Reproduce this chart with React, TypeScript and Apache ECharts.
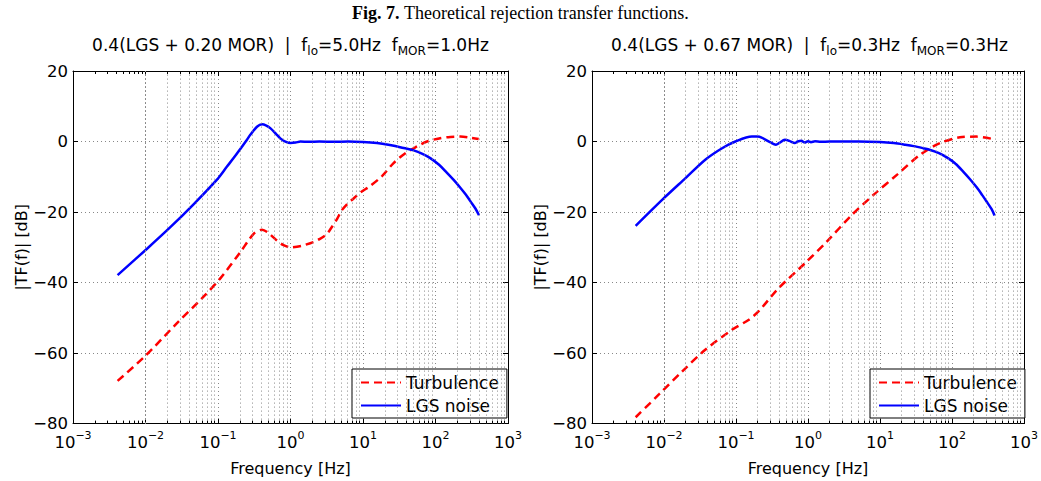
import React, { useEffect, useRef } from 'react';
import * as echarts from 'echarts';

// ---------- data (frequency in Hz, magnitude in dB) ----------
const leftLgsFreq = [0.00412, 0.0105, 0.022, 0.046, 0.0968, 0.133, 0.164, 0.203, 0.251, 0.279, 0.345, 0.405, 0.457, 0.526, 0.63, 0.724, 0.85, 1.0, 1.17, 1.37, 1.78, 2.5, 4.0, 6.3, 10, 15.6, 22.4, 29.4, 39.8, 49.9, 66, 84.7, 112, 144, 178, 220, 263, 302, 355, 398];
const leftLgsDb = [-37.9, -30.4, -24.3, -17.8, -10.8, -7.1, -4.7, -2.1, 0.5, 1.9, 4.2, 4.9, 4.6, 3.8, 2.2, 0.9, 0.0, -0.4, -0.3, 0.0, -0.1, 0.0, -0.1, 0.0, -0.15, -0.45, -0.9, -1.4, -2.0, -2.5, -3.5, -4.7, -6.6, -8.9, -10.9, -13.1, -15.1, -16.9, -19.0, -20.9];

const leftTurbFreq = [0.00412, 0.00993, 0.0272, 0.0632, 0.1076, 0.203, 0.31, 0.405, 0.5, 0.652, 0.8, 1.0, 1.4, 2.08, 2.5, 3.18, 3.7, 4.38, 5.1, 6.0, 7.0, 9.18, 12.6, 18.3, 26.4, 38.4, 55.6, 76.4, 116, 160, 220, 300, 394];
const leftTurbDb = [-67.9, -60.8, -51.5, -44.0, -38.8, -31.4, -26.2, -25.0, -26.0, -28.1, -29.4, -30.0, -29.6, -28.5, -27.7, -26.2, -24.3, -22.0, -19.5, -17.8, -16.6, -14.5, -12.6, -9.8, -6.1, -3.3, -1.4, 0.0, 0.94, 1.3, 1.4, 1.1, 0.7];

const rightLgsFreq = [0.00404, 0.00957, 0.0201, 0.0378, 0.0641, 0.098, 0.166, 0.2, 0.227, 0.297, 0.359, 0.4, 0.477, 0.55, 0.656, 0.72, 0.81, 0.9, 1.0, 1.1, 1.25, 1.5, 2, 5, 10, 15.6, 22.4, 29.4, 39.8, 49.9, 66, 84.7, 112, 144, 178, 220, 263, 302, 355, 390];
const rightLgsDb = [-23.9, -16.4, -10.3, -5.1, -1.9, 0.0, 1.4, 1.4, 1.1, -0.2, -0.9, -0.4, 0.5, 0.2, -0.45, 0.0, 0.2, -0.3, 0.1, -0.2, 0.05, -0.1, 0.0, 0.0, -0.15, -0.45, -0.9, -1.3, -1.9, -2.4, -3.3, -4.5, -6.3, -8.6, -10.7, -13.0, -15.2, -17.0, -19.2, -21.0];

const rightTurbFreq = [0.00404, 0.00863, 0.0181, 0.0378, 0.0879, 0.149, 0.205, 0.386, 0.9, 1.88, 3.94, 8.26, 17.3, 36.3, 68.4, 129, 218, 370];
const rightTurbDb = [-78.2, -71.6, -65.1, -59.0, -53.4, -50.6, -48.2, -41.7, -34.6, -28.1, -21.1, -15.0, -9.4, -3.7, -0.45, 1.2, 1.4, 0.7];

const seriesNames = ['Turbulence', 'LGS noise'];
const decades = [0.001, 0.01, 0.1, 1, 10, 100];
const minorMultipliers = [2, 3, 4, 5, 6, 7, 8, 9];
const yTicks = { min: -80, max: 20, interval: 20 };
const xRange = { min: 0.001, max: 1000 };

const titleMain = 'Theoretical rejection transfer functions.';
const leftTitle = ['0.4(LGS + 0.20 MOR)  |  f', 'lo', '=5.0Hz  f', 'MOR', '=1.0Hz'];
const rightTitle = ['0.4(LGS + 0.67 MOR)  |  f', 'lo', '=0.3Hz  f', 'MOR', '=0.3Hz'];

const zip = (f: number[], d: number[]) => f.map((v, i) => [v, d[i]]);

const FONT = 'DejaVu Sans';
const GRID_STYLE = { color: '#888', type: [1, 3], width: 1 };

export default function App() {
  const ref = useRef<HTMLDivElement>(null);
  useEffect(() => {
    if (!ref.current) return;
    const chart = echarts.init(ref.current, null, { renderer: 'svg' });

    const minorVals: number[] = [];
    decades.forEach((d) => minorMultipliers.forEach((m) => minorVals.push(parseFloat((d * m).toPrecision(3)))));

    const grids = [
      { left: 73, top: 71, width: 435, height: 356 },
      { left: 592, top: 71, width: 435, height: 356 },
    ];

    const xAxes: any[] = [];
    const yAxes: any[] = [];
    grids.forEach((_, g) => {
      xAxes.push({
        type: 'log', logBase: 10, gridIndex: g, min: xRange.min, max: xRange.max, splitNumber: 6,
        position: 'bottom',
        axisLine: { show: true, onZero: false, lineStyle: { color: '#000', width: 1 } },
        axisTick: { show: true, inside: true, length: 5, lineStyle: { color: '#000' } },
        axisLabel: {
          margin: 9,
          formatter: (v: number) => {
            const e = Math.round(Math.log10(v));
            return `{b|10}{s|${e < 0 ? '−' + -e : e}}`;
          },
          rich: {
            b: { fontFamily: FONT, fontSize: 16.5, color: '#000', lineHeight: 20 },
            s: { fontFamily: FONT, fontSize: 11, color: '#000', lineHeight: 20, padding: [0, 0, 14, 0] },
          },
        },
        splitLine: { show: true, lineStyle: GRID_STYLE },
        name: 'Frequency [Hz]', nameLocation: 'middle', nameGap: 30,
        nameTextStyle: { fontFamily: FONT, fontSize: 16, color: '#000' },
      });
      xAxes.push({
        type: 'log', logBase: 10, gridIndex: g, min: xRange.min, max: xRange.max, splitNumber: 6,
        position: 'top',
        axisLine: { show: true, onZero: false, lineStyle: { color: '#000', width: 1 } },
        axisTick: { show: true, inside: true, length: 5, lineStyle: { color: '#000' } },
        axisLabel: { show: false }, splitLine: { show: false },
      });
      yAxes.push({
        type: 'value', gridIndex: g, min: yTicks.min, max: yTicks.max, interval: yTicks.interval,
        position: 'left',
        axisLine: { show: true, onZero: false, lineStyle: { color: '#000', width: 1 } },
        axisTick: { show: true, inside: true, length: 5, lineStyle: { color: '#000' } },
        axisLabel: {
          margin: 5, fontFamily: FONT, fontSize: 16.5, color: '#000',
          formatter: (v: number) => (v < 0 ? '−' + -v : String(v)),
        },
        splitLine: { show: true, lineStyle: GRID_STYLE },
        name: '|TF(f)| [dB]', nameLocation: 'middle', nameGap: 40,
        nameTextStyle: { fontFamily: FONT, fontSize: 16, color: '#000' },
      });
      yAxes.push({
        type: 'value', gridIndex: g, min: yTicks.min, max: yTicks.max, interval: yTicks.interval,
        position: 'right',
        axisLine: { show: true, onZero: false, lineStyle: { color: '#000', width: 1 } },
        axisTick: { show: true, inside: true, length: 5, lineStyle: { color: '#000' } },
        axisLabel: { show: false }, splitLine: { show: false },
      });
    });

    const dataSets = [
      { turb: zip(leftTurbFreq, leftTurbDb), lgs: zip(leftLgsFreq, leftLgsDb) },
      { turb: zip(rightTurbFreq, rightTurbDb), lgs: zip(rightLgsFreq, rightLgsDb) },
    ];

    const series: any[] = [];
    dataSets.forEach((ds, g) => {
      series.push({
        type: 'line', name: 'minor-grid', xAxisIndex: g * 2, yAxisIndex: g * 2, data: [], z: 1, silent: true,
        markLine: {
          silent: true, symbol: ['none', 'none'], label: { show: false },
          lineStyle: GRID_STYLE,
          data: minorVals.map((v) => ({ xAxis: v })),
        },
      });
      series.push({
        type: 'line', name: 'minor-ticks', xAxisIndex: g * 2, yAxisIndex: g * 2, data: [], z: 1, silent: true,
        markLine: {
          silent: true, symbol: ['none', 'none'], label: { show: false },
          lineStyle: { color: '#000', type: 'solid', width: 1 },
          data: [
            ...minorVals.map((v) => [{ coord: [v, yTicks.min] }, { coord: [v, yTicks.min + 0.85] }]),
            ...minorVals.map((v) => [{ coord: [v, yTicks.max] }, { coord: [v, yTicks.max - 0.85] }]),
          ],
        },
      });
      series.push({
        type: 'line', name: seriesNames[0], xAxisIndex: g * 2, yAxisIndex: g * 2, data: ds.turb,
        showSymbol: false, symbol: 'none', smooth: 0.3, z: 3,
        lineStyle: { color: '#ff0000', width: 2.5, type: [8, 5] },
        itemStyle: { color: '#ff0000' },
      });
      series.push({
        type: 'line', name: seriesNames[1], xAxisIndex: g * 2, yAxisIndex: g * 2, data: ds.lgs,
        showSymbol: false, symbol: 'none', smooth: 0.3, z: 4,
        lineStyle: { color: '#0000ff', width: 2.5, type: 'solid' },
        itemStyle: { color: '#0000ff' },
      });
    });

    const legendBase = {
      orient: 'vertical', top: 369, data: seriesNames, itemWidth: 40, itemHeight: 12, itemGap: 6,
      borderColor: '#000', borderWidth: 1, borderRadius: 0, backgroundColor: '#fff',
      padding: [5, 8, 4, 8], selectedMode: false,
      itemStyle: { opacity: 0, borderWidth: 0 },
      textStyle: { fontFamily: FONT, fontSize: 17, color: '#000' },
    };

    const subRich = {
      n: { fontFamily: FONT, fontSize: 17, color: '#000', lineHeight: 20 },
      sub: { fontFamily: FONT, fontSize: 12, color: '#000', lineHeight: 20, padding: [12, 0, 0, 0] },
    };
    const subText = (p: string[]) => `{n|${p[0]}}{sub|${p[1]}}{n|${p[2]}}{sub|${p[3]}}{n|${p[4]}}`;

    chart.setOption({
      animation: false,
      backgroundColor: '#fff',
      grid: grids,
      xAxis: xAxes,
      yAxis: yAxes,
      legend: [
        { ...legendBase, left: 352 },
        { ...legendBase, left: 870 },
      ],
      graphic: [
        {
          type: 'text', x: 520.5, y: 13,
          style: {
            text: `{b|Fig. 7.}{r| ${titleMain}}`,
            align: 'center', verticalAlign: 'middle',
            rich: {
              b: { fontFamily: 'Liberation Serif', fontSize: 18, fontWeight: 'bold', fill: '#000' },
              r: { fontFamily: 'Liberation Serif', fontSize: 18, fill: '#000' },
            },
          },
        },
        {
          type: 'text', x: 290.5, y: 45,
          style: { text: subText(leftTitle), align: 'center', verticalAlign: 'middle', rich: subRich },
        },
        {
          type: 'text', x: 809.5, y: 45,
          style: { text: subText(rightTitle), align: 'center', verticalAlign: 'middle', rich: subRich },
        },
      ],
      series,
    });

    return () => chart.dispose();
  }, []);

  return <div ref={ref} style={{ position: 'absolute', left: 0, top: 0, width: 1041, height: 481 }} />;
}
